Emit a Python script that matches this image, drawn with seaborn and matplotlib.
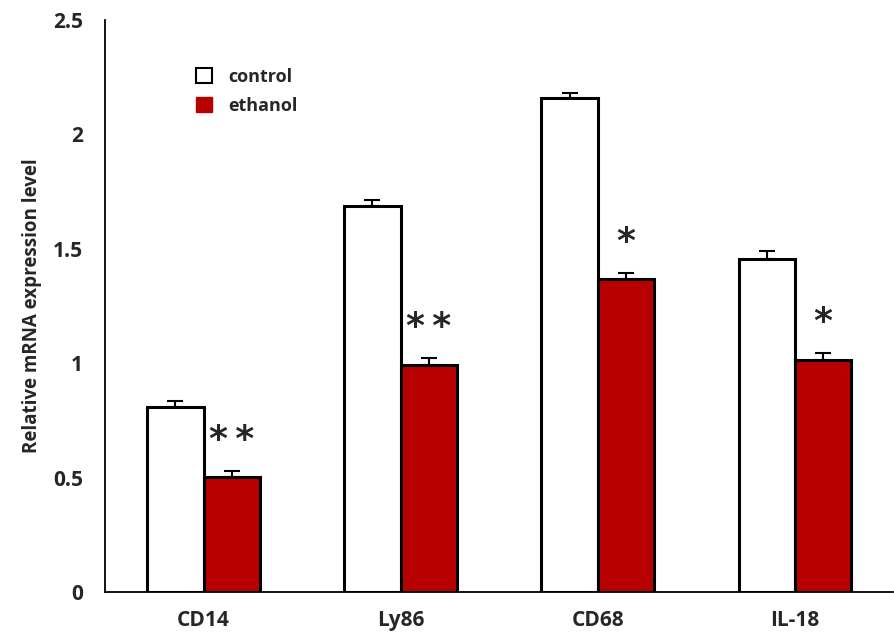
import numpy as np
import pandas as pd
import matplotlib
matplotlib.use('Agg')
import matplotlib.pyplot as plt
import seaborn as sns
from matplotlib.patches import Patch

# values
genes = ['CD14', 'Ly86', 'CD68', 'IL-18']
control = [0.81, 1.685, 2.16, 1.455]
ethanol = [0.503, 0.99, 1.37, 1.013]
control_err = [0.025, 0.03, 0.02, 0.037]
ethanol_err = [0.026, 0.033, 0.025, 0.032]
stars = ['*\u2009*', '*\u2009*', '*', '*']

df = pd.DataFrame({
    'gene': genes * 2,
    'group': ['control'] * 4 + ['ethanol'] * 4,
    'value': control + ethanol,
})

sns.set_style('white')
plt.rcParams['font.family'] = ['Open Sans', 'DejaVu Sans']

fig = plt.figure(figsize=(8.95, 6.38), dpi=100)
ax = fig.add_axes([0.1173, 0.0721, 0.8807, 0.8966])

red = '#b80000'
palette = {'control': 'white', 'ethanol': red}
sns.barplot(data=df, x='gene', y='value', hue='group', palette=palette,
            width=0.57, gap=0, saturation=1, edgecolor='black', linewidth=2.2,
            errorbar=None, legend=False, ax=ax)

# error bars (upper only) from the bar positions
errs = control_err + ethanol_err
for bar, err in zip(ax.patches[:8], errs):
    xc = bar.get_x() + bar.get_width() / 2
    top = bar.get_height()
    ax.errorbar(xc, top, yerr=[[0], [err]], fmt='none', ecolor='black',
                elinewidth=1.5, capsize=6, capthick=1.5, zorder=1)

for i, s in enumerate(stars):
    bar = ax.patches[4 + i]
    xc = bar.get_x() + bar.get_width() / 2
    ax.text(xc, ethanol[i] + ethanol_err[i] + 0.135, s, ha='center', va='center',
            fontsize=26, fontweight='bold', fontfamily='DejaVu Sans')

ax.set_xlim(-0.5, 3.5)
ax.set_ylim(0, 2.5)
ax.set_yticks([0, 0.5, 1, 1.5, 2, 2.5])
ax.set_yticklabels(['0', '0.5', '1', '1.5', '2', '2.5'])
ax.set_xticks(range(4))
ax.set_xticklabels(genes)
ax.set_xticks([-0.5, 0.5, 1.5, 2.5, 3.5], minor=True)
ax.tick_params(axis='x', which='major', length=0, pad=13, labelsize=15)
ax.tick_params(axis='x', which='minor', length=6, width=1.2, direction='out', color='black')
ax.tick_params(axis='y', length=6, width=1.2, direction='out', color='black', labelsize=15, pad=10)
for lab in ax.get_xticklabels() + ax.get_yticklabels():
    lab.set_fontweight('bold')

ax.set_xlabel('')
ax.set_ylabel('Relative mRNA expression level', fontsize=13.5, fontweight='bold', labelpad=8)

for side in ['top', 'right']:
    ax.spines[side].set_visible(False)
for side in ['left', 'bottom']:
    ax.spines[side].set_color('black')
    ax.spines[side].set_linewidth(1.3)

handles = [Patch(facecolor='white', edgecolor='black', linewidth=1.5, label='control'),
           Patch(facecolor=red, edgecolor=red, label='ethanol')]
leg = ax.legend(handles=handles, loc='upper left', bbox_to_anchor=(0.095, 0.945),
                frameon=False, handlelength=0.9, handleheight=0.9, handletextpad=0.9,
                prop={'weight': 'bold', 'size': 13}, labelspacing=0.6)

plt.savefig('out.png', dpi=100)
